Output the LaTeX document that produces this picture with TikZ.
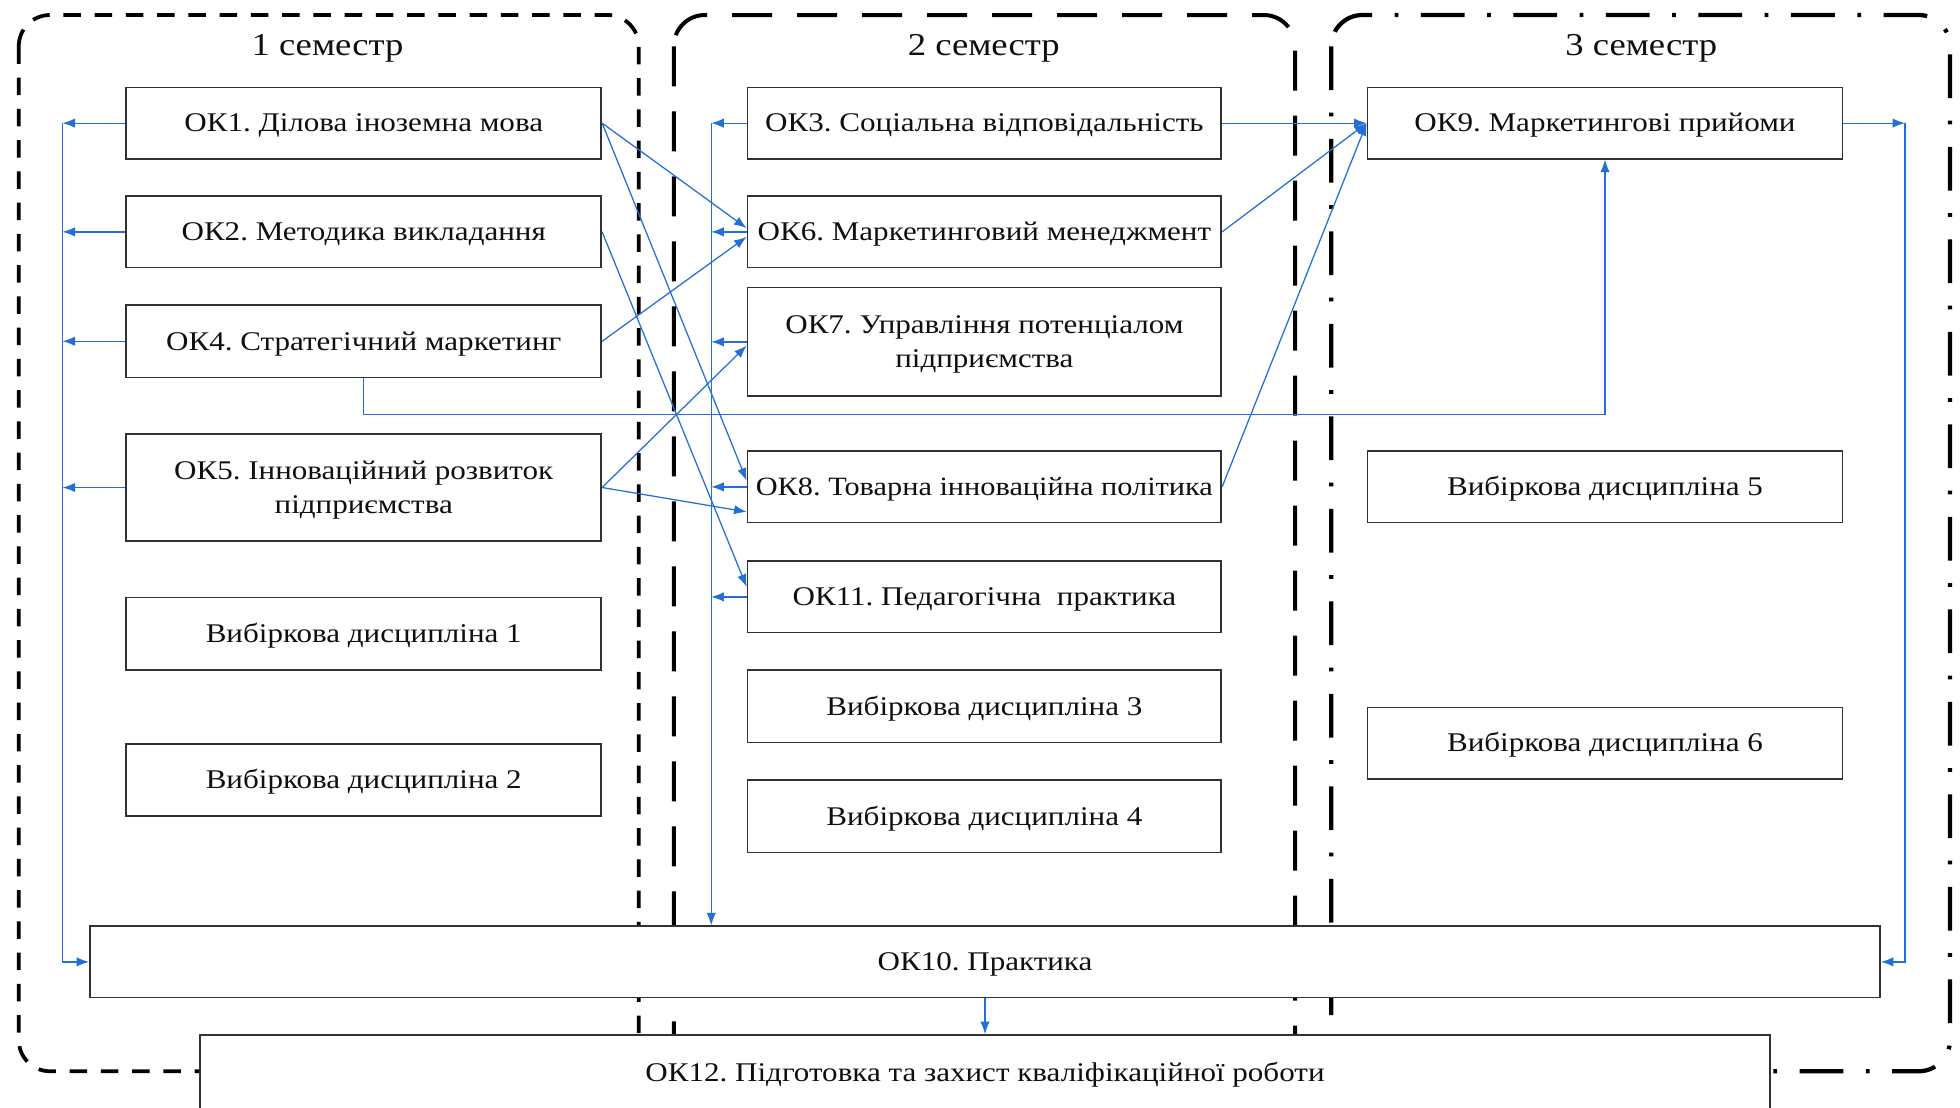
\documentclass[tikz,border=0pt]{standalone}
\usepackage{fontspec}
\setmainfont{Liberation Serif}[FakeStretch=1.15]
\usetikzlibrary{arrows.meta}
\definecolor{linkblue}{RGB}{35,110,215}
\definecolor{boxline}{RGB}{50,50,50}
\definecolor{txt}{RGB}{15,15,15}
\begin{document}
\frenchspacing
\begin{tikzpicture}[x=1pt,y=-1pt,
  box/.style={draw=boxline, line width=1.4pt, fill=white, inner sep=0pt, align=center, text=txt,
    text height=16pt, text depth=2pt, font=\fontsize{21.6}{27}\selectfont},
  twoline/.style={text height=43pt},
  colbox/.style={box, minimum width=380pt, minimum height=57pt},
  link/.style={draw=linkblue, line width=1pt, -{Latex[length=10pt,width=7.5pt]}},
  title/.style={text=txt, font=\fontsize{25.5}{30}\selectfont, inner sep=0pt, anchor=base},
  contA/.style={draw=black, line width=3pt, rounded corners=25pt, dash pattern=on 14pt off 11pt},
  contB/.style={draw=black, line width=3.2pt, rounded corners=25pt, dash pattern=on 32pt off 20pt},
  contC/.style={draw=black, line width=3.4pt, rounded corners=25pt, dash pattern=on 35pt off 18pt on 3pt off 18pt}
]
\path[use as bounding box, fill=white] (0,0) rectangle (1568,886);

% semester containers
\draw[contA] (15,12) rectangle (511,857);
\draw[contB] (539,12) rectangle (1036,857);
\draw[contC] (1065,12) rectangle (1560,857);

% titles
\node[title] (t1) at (262,44.5) {1 семестр};
\node[title] (t2) at (787,44.5) {2 семестр};
\node[title] (t3) at (1313,44.5) {3 семестр};

% column 1
\node[colbox] (ok1) at (291,98.5) {ОК1. Ділова іноземна мова};
\node[colbox] (ok2) at (291,185.5) {ОК2. Методика викладання};
\node[colbox, minimum height=58pt] (ok4) at (291,273) {ОК4. Стратегічний маркетинг};
\node[colbox, twoline, minimum height=86pt] (ok5) at (291,390) {ОК5. Інноваційний розвиток\\підприємства};
\node[colbox, minimum height=58pt] (v1) at (291,507) {Вибіркова дисципліна 1};
\node[colbox, minimum height=58pt] (v2) at (291,624) {Вибіркова дисципліна 2};

% column 2
\node[colbox, minimum width=379pt] (ok3) at (787.5,98.5) {ОК3. Соціальна відповідальність};
\node[colbox, minimum width=379pt] (ok6) at (787.5,185.5) {ОК6. Маркетинговий менеджмент};
\node[colbox, twoline, minimum width=379pt, minimum height=87pt] (ok7) at (787.5,273.5) {ОК7. Управління потенціалом\\підприємства};
\node[colbox, minimum width=379pt, font=\fontsize{21.1}{27}\selectfont] (ok8) at (787.5,389.5) {ОК8. Товарна інноваційна політика};
\node[colbox, minimum width=379pt] (ok11) at (787.5,477.5) {ОК11. Педагогічна~ практика};
\node[colbox, minimum width=379pt, minimum height=58pt] (v3) at (787.5,565) {Вибіркова дисципліна 3};
\node[colbox, minimum width=379pt, minimum height=58pt] (v4) at (787.5,653) {Вибіркова дисципліна 4};

% column 3
\node[colbox] (ok9) at (1284,98.5) {ОК9. Маркетингові прийоми};
\node[colbox] (v5) at (1284,389.5) {Вибіркова дисципліна 5};
\node[colbox] (v6) at (1284,594.5) {Вибіркова дисципліна 6};

% bottom boxes
\node[box, minimum width=1432pt, minimum height=57pt] (ok10) at (788,769.5) {ОК10. Практика};
\node[box, minimum width=1256pt, minimum height=60pt] (ok12) at (788,858) {ОК12. Підготовка та захист кваліфікаційної роботи};

% bus coordinates
\coordinate (busL) at (50,0);
\coordinate (busM) at (569,0);
\coordinate (busR) at (1524,0);

% left bus
\foreach \n in {ok1,ok2,ok4,ok5} {
  \draw[link] (\n.west) -- (\n.west -| busL);
}
\draw[link] (ok1.west -| busL) |- (ok10.west);

% middle bus
\foreach \n in {ok3,ok6,ok7,ok8,ok11} {
  \draw[link] (\n.west) -- (\n.west -| busM);
}
\draw[link] (ok3.west -| busM) -- (ok10.north -| busM);

% right bus
\draw[link] (ok9.east) -- (ok9.east -| busR);
\draw[link] (ok9.east -| busR) |- (ok10.east);

% OK4 -> OK9
\draw[link] (ok4.south) -- ++(0,29) -| (ok9.south);

% OK10 -> OK12
\draw[link] (ok10.south) -- (ok12.north);

% cross links semester 1 -> 2
\draw[link] (ok1.east) -- ([yshift=3pt]ok6.west);
\draw[link] (ok4.east) -- ([yshift=-4pt]ok6.west);
\draw[link] (ok1.east) -- ([yshift=5pt]ok8.west);
\draw[link] (ok5.east) -- ([yshift=-20pt]ok8.west);
\draw[link] (ok5.east) -- ([yshift=-3pt]ok7.west);
\draw[link] (ok2.east) -- ([yshift=8pt]ok11.west);

% semester 2 -> 3
\draw[link] (ok3.east) -- (ok9.west);
\draw[link] (ok6.east) -- (ok9.west);
\draw[link] (ok8.east) -- (ok9.west);
\end{tikzpicture}
\end{document}
